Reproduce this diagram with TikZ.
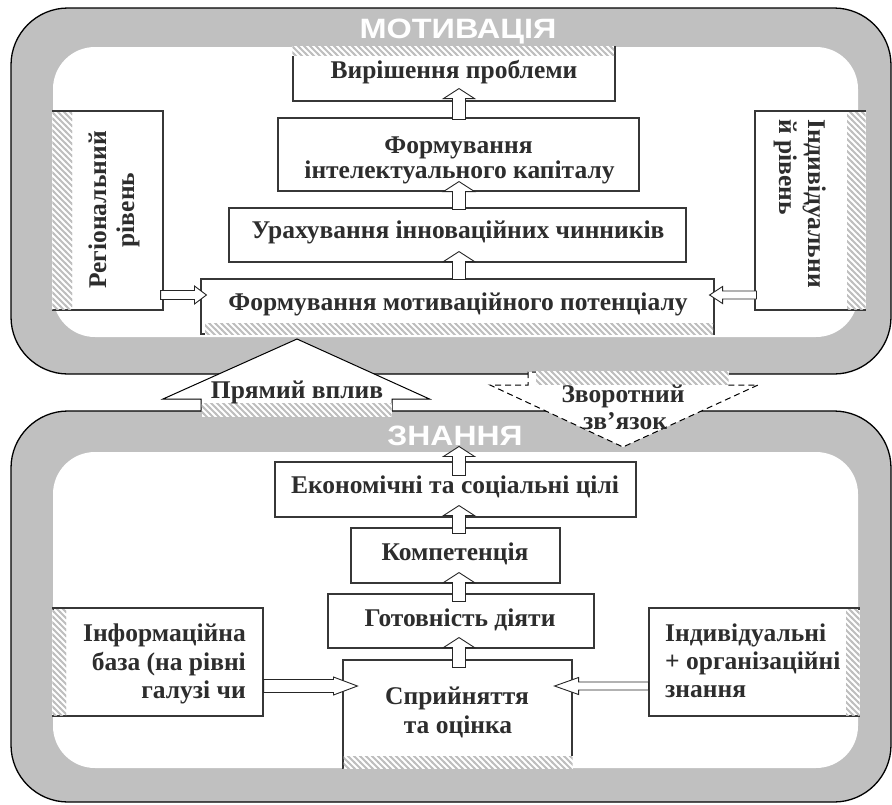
\documentclass[tikz,border=0pt]{standalone}
\usepackage{fontspec}
\setmainfont{Liberation Serif}
\newfontfamily\titlefont{Liberation Sans}
\usetikzlibrary{calc,patterns}

% light diagonal stripes used for the shaded edges of the boxes
\pgfdeclarepatternformonly{diagstripes}{\pgfqpoint{-1pt}{-1pt}}{\pgfqpoint{7pt}{7pt}}{\pgfqpoint{6pt}{6pt}}{%
  \pgfsetlinewidth{2pt}%
  \pgfpathmoveto{\pgfqpoint{-1pt}{7pt}}%
  \pgfpathlineto{\pgfqpoint{7pt}{-1pt}}%
  \pgfusepath{stroke}}

\definecolor{bandgray}{RGB}{192,192,192}
\definecolor{stripegray}{RGB}{190,190,190}
\definecolor{inkgray}{RGB}{45,45,45}
\definecolor{edgegray}{RGB}{55,55,55}

\tikzset{
  frameout/.style={draw=black, line width=1.3pt, fill=bandgray, rounded corners=57pt, inner sep=0pt},
  framein/.style={fill=white, rounded corners=42pt, inner sep=0pt},
  stepbox/.style={draw=edgegray, line width=1.1pt, fill=white, inner sep=0pt},
  hatchstrip/.style={fill=white, postaction={pattern=diagstripes, pattern color=stripegray}},
  lbl/.style={font=\fontsize{25.5}{29}\selectfont\bfseries, text=inkgray, inner sep=0pt},
  headline/.style={font=\titlefont\fontsize{28}{30}\selectfont\bfseries, text=white, inner sep=0pt},
  blk/.style={draw=black!85, line width=0.9pt, fill=white, line join=miter},
  bigarrow/.style={draw=black, line width=1pt, fill=white, line join=miter},
}

% hollow block arrow: start, tip, shaft half width, head half width, head length
\newcommand\blkarrow[5]{%
  \coordinate (ba-s) at (#1);
  \coordinate (ba-t) at (#2);
  \coordinate (ba-h) at ($(ba-t)!#5!(ba-s)$);
  \draw[blk] ($(ba-s)!#3!90:(ba-t)$) -- ($(ba-h)!#3!-90:(ba-s)$) -- ($(ba-h)!#4!-90:(ba-s)$)
    -- (ba-t) -- ($(ba-h)!#4!90:(ba-s)$) -- ($(ba-h)!#3!90:(ba-s)$) -- ($(ba-s)!#3!-90:(ba-t)$) -- cycle;
}

\begin{document}
\begin{tikzpicture}[x=1pt,y=-1pt]
\fill[white] (0,0) rectangle (892,804);
\useasboundingbox (0,0) rectangle (892,804);

% ---------- frames ----------
\node[frameout, minimum width=880pt, minimum height=366pt] (motOut) at (451,191) {};
\node[framein, minimum width=805pt, minimum height=290pt] (motIn) at (455.5,192) {};
\node[frameout, minimum width=880pt, minimum height=391pt] (znOut) at (451,606.5) {};
\node[framein, minimum width=805pt, minimum height=316pt] (znIn) at (455.5,610) {};

\node[headline, anchor=base] (motTitle) at (458,38) {\scalebox{1.16}[1]{МОТИВАЦІЯ}};
\node[headline, anchor=base] (znTitle) at (455,445) {\scalebox{1.14}[1]{ЗНАННЯ}};

\coordinate (ax) at (459,0);
\coordinate (rowA) at (0,295);
\coordinate (rowB) at (0,686);

% ---------- motivation boxes ----------
\node[stepbox, minimum width=322pt, minimum height=54pt] (b1) at (454,74) {};
\path[hatchstrip] (292.4,46) rectangle (614,55.5);
\node[lbl, anchor=base] (b1t) at (454,78) {Вирішення проблеми};

\node[stepbox, minimum width=361pt, minimum height=73pt] (b2) at (458.5,154.5) {};
\node[lbl, anchor=base] (b2t) at (458.5,153) {Формування};
\node[lbl, anchor=base] (b2u) at (459.5,178) {інтелектуального капіталу};

\node[stepbox, minimum width=457pt, minimum height=54pt] (b3) at (457.5,235) {};
\node[lbl, anchor=base] (b3t) at (458,238) {Урахування інноваційних чинників};

\node[stepbox, minimum width=513pt, minimum height=55pt] (b4) at (457.5,306.5) {};
\path[hatchstrip] (205,323) rectangle (713,334.6);
\node[lbl, anchor=base] (b4t) at (458,310) {Формування мотиваційного потенціалу};

\node[stepbox, minimum width=110pt, minimum height=199pt] (reg) at (108,210.5) {};
\path[hatchstrip] (52.4,112) rectangle (72,309.4);
\node[lbl, rotate=90, anchor=base] (regA) at (106,210) {Регіональний};
\node[lbl, rotate=90, anchor=base] (regB) at (134,210) {рівень};

\node[stepbox, minimum width=110pt, minimum height=199pt] (ind) at (810,210.5) {};
\path[hatchstrip] (847,112) rectangle (865.6,309.4);
\node[lbl, rotate=-90, anchor=base west] (indA) at (808,119) {Індивідуальни};
\node[lbl, rotate=-90, anchor=base west] (indB) at (779,119) {й рівень};

% ---------- knowledge boxes ----------
\node[stepbox, minimum width=361pt, minimum height=55pt] (ec) at (455.5,489.5) {};
\node[lbl, anchor=base] (ect) at (455,493) {Економічні та соціальні цілі};

\node[stepbox, minimum width=209pt, minimum height=55pt] (ko) at (455.5,555.5) {};
\node[lbl, anchor=base] (kot) at (455,560) {Компетенція};

\node[stepbox, minimum width=266pt, minimum height=54pt] (go) at (461,621) {};
\node[lbl, anchor=base] (got) at (460,626) {Готовність діяти};

\node[stepbox, minimum width=229pt, minimum height=108pt] (sp) at (457.5,714) {};
\path[hatchstrip] (343.6,756) rectangle (572.6,768.6);
\node[lbl, anchor=base] (spA) at (457,704) {Сприйняття};
\node[lbl, anchor=base] (spB) at (458,733) {та оцінка};

\node[stepbox, minimum width=210pt, minimum height=108pt] (info) at (158,662) {};
\path[hatchstrip] (52.4,609.5) rectangle (66,715.4);
\node[lbl, anchor=base east] (infoA) at (246,641) {Інформаційна};
\node[lbl, anchor=base east] (infoB) at (246,670) {база (на рівні};
\node[lbl, anchor=base east] (infoC) at (246,698) {галузі чи};

\node[stepbox, minimum width=210pt, minimum height=108pt] (orgk) at (754,662) {};
\path[hatchstrip] (846,609.5) rectangle (859.6,715.4);
\node[lbl, anchor=base west] (orgA) at (665,641) {Індивідуальні};
\node[lbl, anchor=base west] (orgB) at (665,669) {+ організаційні};
\node[lbl, anchor=base west] (orgC) at (665,697) {знання};

% ---------- small block arrows ----------
\blkarrow{$(ax|-b2.north)+(0,2)$}{$(ax|-b1.south)+(0,-13)$}{6.5pt}{15.5pt}{10pt}
\blkarrow{$(ax|-b3.north)+(0,2)$}{$(ax|-b2.south)+(0,-10)$}{6.5pt}{15.5pt}{10pt}
\blkarrow{$(ax|-b4.north)+(0,1)$}{$(ax|-b3.south)+(0,-11)$}{6.5pt}{15.5pt}{10pt}

\blkarrow{$(reg.east|-rowA)+(-3,0)$}{$(b4.west|-rowA)+(6,0)$}{4.5pt}{9pt}{12pt}
\blkarrow{$(ind.west|-rowA)+(2,0)$}{$(b4.east|-rowA)+(-5,0)$}{4pt}{8.5pt}{13pt}

\blkarrow{$(ax|-ec.north)+(0,14)$}{$(ax|-ec.north)+(0,-15)$}{6.5pt}{15.5pt}{10pt}
\blkarrow{$(ax|-ko.north)+(0,6)$}{$(ax|-ec.south)+(0,-12)$}{6.5pt}{15.5pt}{10pt}
\blkarrow{$(ax|-go.north)+(0,8)$}{$(ax|-ko.south)+(0,-11)$}{6.5pt}{15.5pt}{10pt}
\blkarrow{$(ax|-sp.north)+(0,8)$}{$(ax|-go.south)+(0,-11)$}{6.5pt}{15.5pt}{10pt}

\blkarrow{$(info.east|-rowB)$}{$(sp.west|-rowB)+(15,0)$}{6.5pt}{9pt}{24pt}
\blkarrow{$(orgk.west|-rowB)$}{$(sp.east|-rowB)+(-18,0)$}{4pt}{8.5pt}{24pt}

% ---------- direct influence (up) ----------
\coordinate (pvBase) at (296.5,411);
\coordinate (pvTip) at (297,339);
\draw[bigarrow] ($(pvBase)+(-95.5,0)$) -- ($(pvBase)+(-95.5,-12)$) -- ($(pvBase)+(-133.5,-12)$)
  -- (pvTip) -- ($(pvBase)+(133,-12)$) -- ($(pvBase)+(95.5,-12)$) -- ($(pvBase)+(95.5,0)$);
\path[hatchstrip] ($(pvBase)+(-94.8,-8)$) rectangle ($(pvBase)+(95,6)$);
\node[lbl, anchor=base] (pvText) at (297,398) {Прямий вплив};

% ---------- feedback (down, dashed) ----------
\coordinate (zvTop) at (628,372);
\coordinate (zvTip) at (623,447);
\draw[bigarrow, dashed, dash pattern=on 6pt off 4pt] ($(zvTop)+(100,0)$) -- ($(zvTop)+(-100,0)$)
  -- ($(zvTop)+(-100,13)$) -- ($(zvTop)+(-138,13)$) -- (zvTip)
  -- ($(zvTop)+(130,13)$) -- ($(zvTop)+(100,13)$) -- cycle;
\path[hatchstrip] ($(zvTop)+(-92,-0.8)$) rectangle ($(zvTop)+(100.6,12)$);
\node[lbl, anchor=base] (zvA) at (623,402) {Зворотний};
\node[lbl, anchor=base] (zvB) at (625,429) {зв’язок};
\end{tikzpicture}
\end{document}
